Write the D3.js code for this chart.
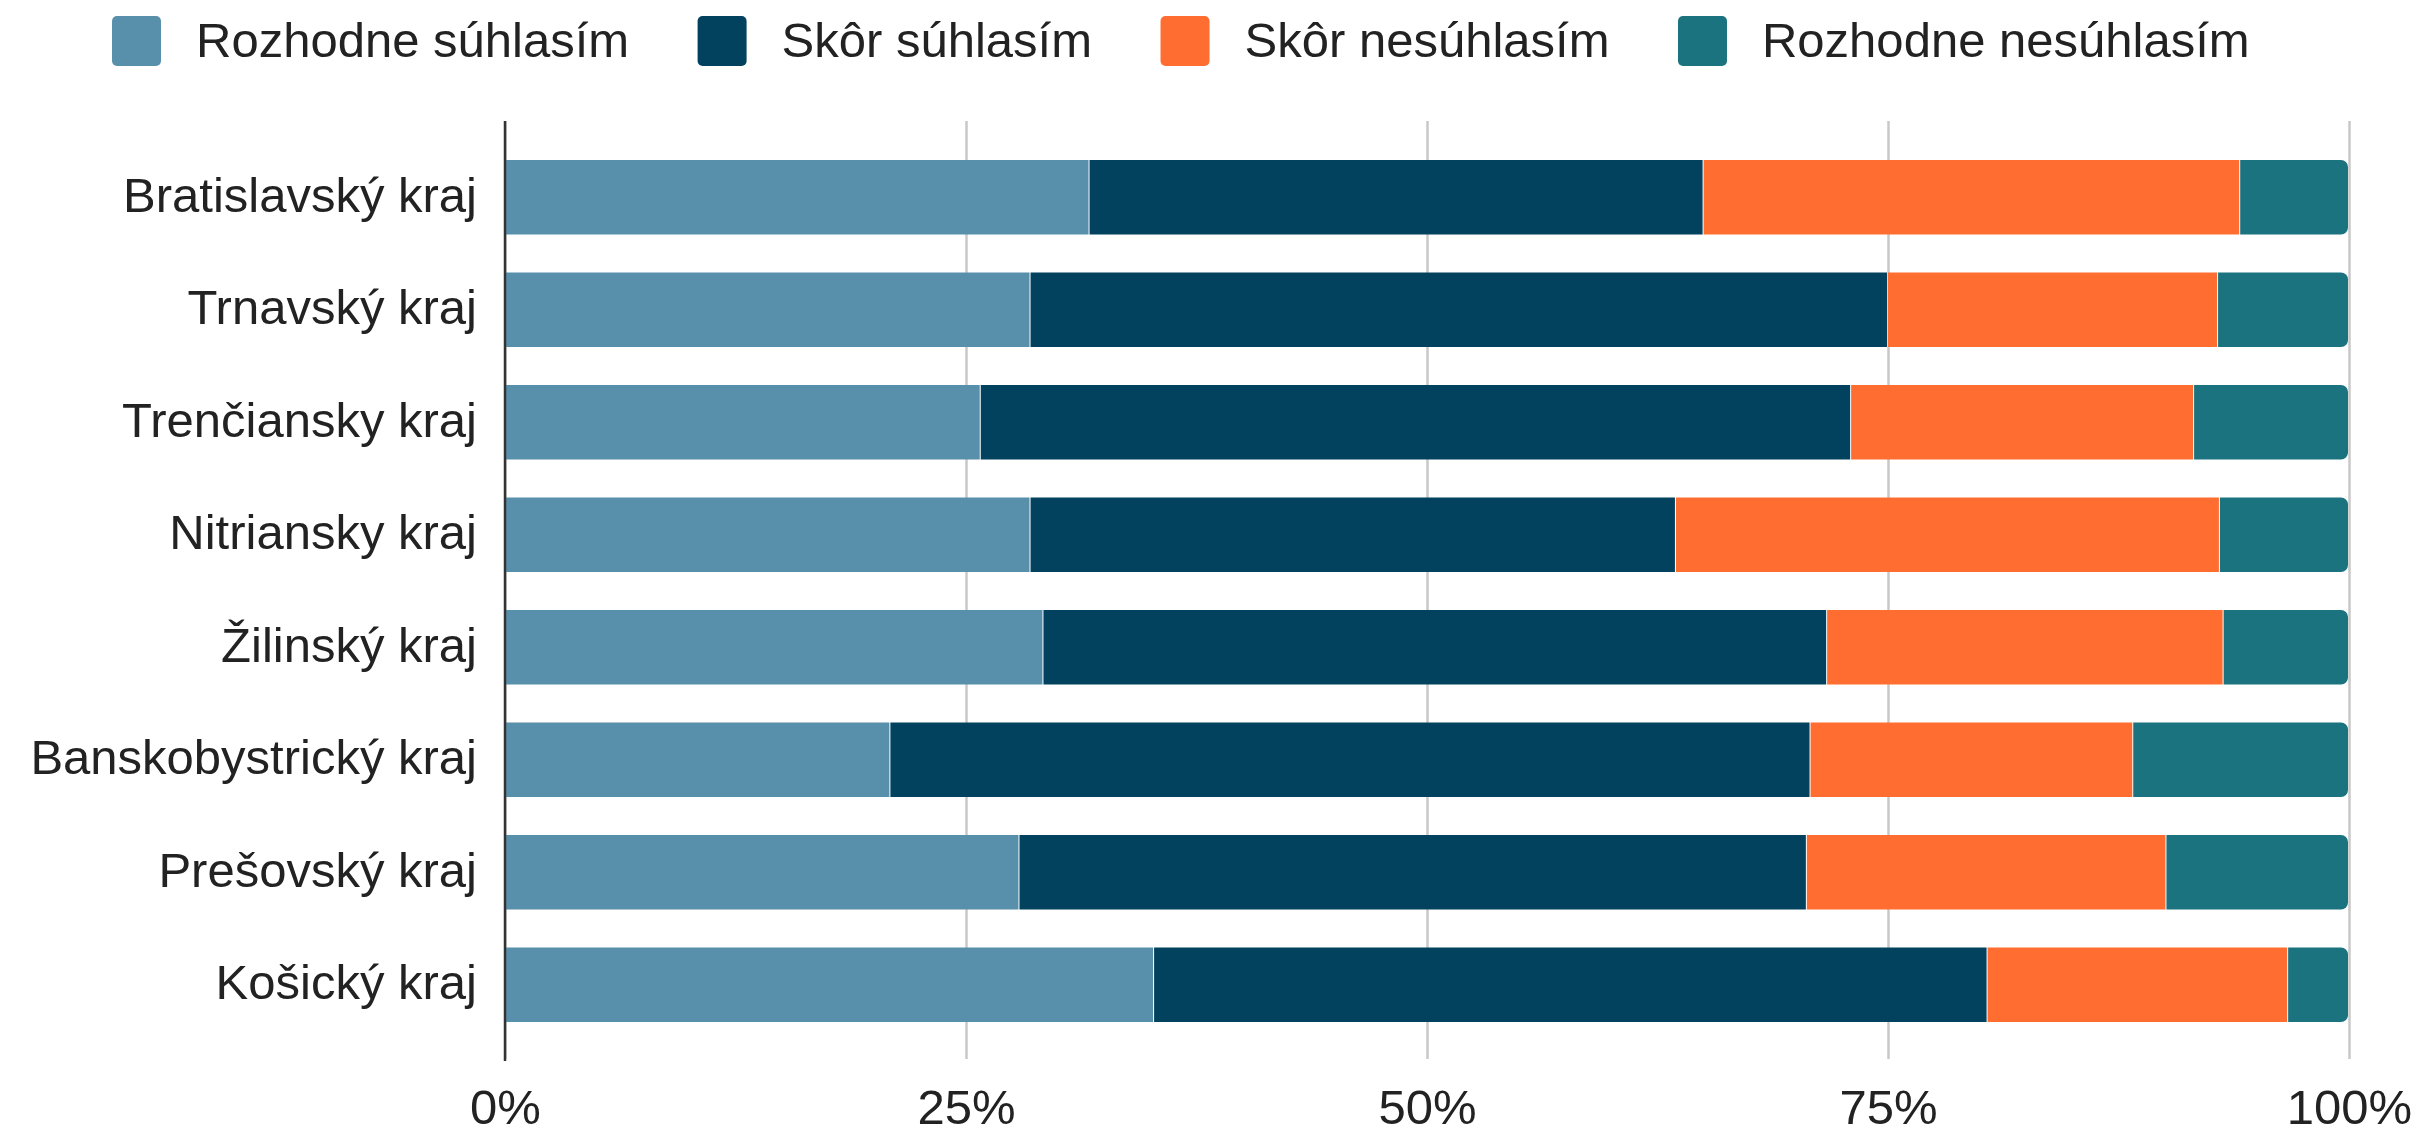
<!DOCTYPE html>
<html>
<head>
<meta charset="utf-8">
<script src="https://cdn.jsdelivr.net/npm/d3@7"></script>
<style>
  body { margin: 0; background: #fff; }
  svg text { font-family: "Liberation Sans", Arial, sans-serif; fill: #222; }
</style>
</head>
<body>
<div id="chart"></div>
<script>
const regions = [
  "Bratislavský kraj", "Trnavský kraj", "Trenčiansky kraj", "Nitriansky kraj",
  "Žilinský kraj", "Banskobystrický kraj", "Prešovský kraj", "Košický kraj"
];
const seriesNames = ["Rozhodne súhlasím", "Skôr súhlasím", "Skôr nesúhlasím", "Rozhodne nesúhlasím"];
const strongAgree = [31.7, 28.5, 25.8, 28.5, 29.2, 20.9, 27.9, 35.2];
const agree = [33.3, 46.5, 47.2, 35.0, 42.5, 49.9, 42.7, 45.2];
const disagree = [29.1, 17.9, 18.6, 29.5, 21.5, 17.5, 19.5, 16.3];
const strongDisagree = [5.9, 7.1, 8.4, 7.0, 6.8, 11.7, 9.9, 3.3];
const tickValues = [0, 0.25, 0.5, 0.75, 1];
const colors = ["#5890ac", "#03425f", "#ff6e30", "#1b7380"];

const width = 2420;
const height = 1135;
const margin = { top: 122, right: 71, bottom: 75, left: 505 };

const svg = d3.select("#chart")
  .append("svg")
  .attr("width", width)
  .attr("height", height);

// rows for the stack
const rows = regions.map((r, i) => ({
  region: r,
  [seriesNames[0]]: strongAgree[i],
  [seriesNames[1]]: agree[i],
  [seriesNames[2]]: disagree[i],
  [seriesNames[3]]: strongDisagree[i]
}));

const stacked = d3.stack()
  .keys(seriesNames)
  .offset(d3.stackOffsetExpand)(rows);

const x = d3.scaleLinear()
  .domain([0, 1])
  .range([margin.left, width - margin.right]);

const y = d3.scaleBand()
  .domain(regions)
  .range([margin.top, height - margin.bottom])
  .padding(0.337);

const color = d3.scaleOrdinal().domain(seriesNames).range(colors);

// grid + x labels
const gx = svg.append("g")
  .attr("transform", `translate(0,${y.range()[1] - 1})`)
  .call(d3.axisBottom(x)
    .tickValues(tickValues)
    .tickFormat(d3.format(".0%"))
    .tickSize(-(y.range()[1] - y.range()[0]))
    .tickPadding(30));
gx.select(".domain").remove();
gx.selectAll(".tick line").attr("stroke", "#c8c8c8").attr("stroke-width", 2.5);
gx.selectAll(".tick text").attr("font-size", 49);

// bars
const r = 7;
const roundRight = (x0, x1, y0, h) => {
  const y1 = y0 + h;
  return `M${x0},${y0}H${x1 - r}A${r},${r} 0 0 1 ${x1},${y0 + r}V${y1 - r}A${r},${r} 0 0 1 ${x1 - r},${y1}H${x0}Z`;
};

svg.append("g")
  .selectAll("g")
  .data(stacked)
  .join("g")
  .attr("fill", d => color(d.key))
  .selectAll("path")
  .data((d, i) => d.map(v => ({ v, last: i === stacked.length - 1 })))
  .join("path")
  .attr("d", d => {
    const x0 = x(d.v[0]), x1 = x(d.v[1]) - 1, y0 = y(d.v.data.region), h = y.bandwidth();
    return d.last ? roundRight(x0, x1, y0, h) : `M${x0},${y0}H${x1}V${y0 + h}H${x0}Z`;
  });

// y axis
const gy = svg.append("g")
  .attr("transform", `translate(${margin.left},0)`)
  .call(d3.axisLeft(y).tickSize(0).tickSizeOuter(0).tickPadding(28));
gy.select(".domain").attr("stroke", "#333").attr("stroke-width", 2.5)
  .attr("d", `M0,${y.range()[0] - 1}V${y.range()[1] + 1}`);
gy.selectAll(".tick text").attr("font-size", 49).attr("dy", "0.3em");

// legend
const legend = svg.append("g");
let lx = 112;
seriesNames.forEach(name => {
  legend.append("rect")
    .attr("x", lx).attr("y", 16)
    .attr("width", 49).attr("height", 50)
    .attr("rx", 5)
    .attr("fill", color(name));
  const t = legend.append("text")
    .attr("x", lx + 49 + 35)
    .attr("y", 57)
    .attr("font-size", 49)
    .text(name);
  lx += 49 + 35 + t.node().getComputedTextLength() + 68.5;
});
</script>
</body>
</html>
